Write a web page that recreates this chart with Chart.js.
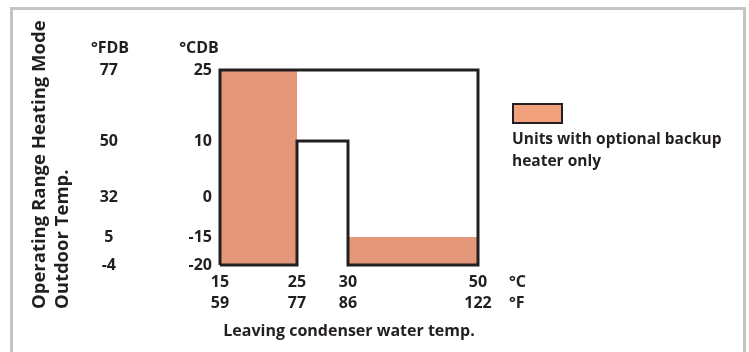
<!DOCTYPE html>
<html>
<head>
<meta charset="utf-8">
<script src="https://cdn.jsdelivr.net/npm/chart.js@4/dist/chart.umd.min.js"></script>
<style>
  html, body { margin: 0; padding: 0; background: #fff; }
  #wrap { width: 749px; height: 352px; position: relative; }
  canvas { display: block; }
</style>
</head>
<body>
<div id="wrap"><canvas id="c" width="749" height="352"></canvas></div>
<script>
// Outdoor temperature ticks (dry bulb)
const outdoorC = [25, 10, 0, -15, -20];
const outdoorF = [77, 50, 32, 5, -4];
// Leaving condenser water temperature ticks
const waterC = [15, 25, 30, 50];
const waterF = [59, 77, 86, 122];
// Operating envelope outline, as (water °C, outdoor °C) vertices
const rangeWater   = [15, 15, 50, 50, 30, 30, 25, 25, 15];
const rangeOutdoor = [-20, 25, 25, -20, -20, 10, 10, -20, -20];
// Zones needing the optional backup heater: water span, upper outdoor limit (down to -20 °C)
const backupWater   = [[15, 25], [30, 50]];
const backupOutdoor = [25, -15];

// The diagram is schematic: each tick sits at a fixed place along its axis
const outdoorAxis = [195, 124, 68, 28, 0];
const waterAxis   = [0, 77, 128, 258];

function place(v, vals, pos) {
  for (let i = 0; i < vals.length - 1; i++) {
    const a = vals[i], b = vals[i + 1];
    if ((v - a) * (v - b) <= 0) {
      return a === b ? pos[i] : pos[i] + (v - a) / (b - a) * (pos[i + 1] - pos[i]);
    }
  }
  return pos[vals.indexOf(v)];
}
const wx = v => place(v, waterC, waterAxis);
const oy = v => place(v, outdoorC, outdoorAxis);

const INK = '#231f20';
const FILL = '#e5977a';
const FAMILY = '"Open Sans", Roboto, sans-serif';
const tickFont = { family: FAMILY, size: 16, weight: 'bold', lineHeight: 21 / 16 };

const datasets = [{
  label: 'Operating range',
  data: rangeWater.map((w, i) => ({ x: wx(w), y: oy(rangeOutdoor[i]) })),
  showLine: true,
  fill: false,
  borderColor: INK,
  borderWidth: 3,
  borderJoinStyle: 'miter',
  pointRadius: 0,
  clip: false,
  order: 0
}];
backupWater.forEach((span, k) => {
  datasets.push({
    label: 'Units with optional backup heater only',
    data: span.map(w => ({ x: wx(w), y: oy(backupOutdoor[k]) })),
    showLine: true,
    fill: 'start',
    backgroundColor: FILL,
    borderWidth: 0,
    pointRadius: 0,
    order: 1
  });
});

const decor = {
  id: 'decor',
  beforeDraw(chart) {
    const ctx = chart.ctx;
    ctx.save();
    ctx.strokeStyle = '#c4c4c4';
    ctx.lineWidth = 3;
    ctx.strokeRect(11.5, 8.5, 733, 360);
    ctx.restore();
  },
  afterDraw(chart) {
    const ctx = chart.ctx;
    ctx.save();
    ctx.fillStyle = INK;
    ctx.textBaseline = 'middle';
    ctx.font = 'bold 16px ' + FAMILY;
    // column headers
    ctx.textAlign = 'center';
    ctx.fillText('°FDB', 110, 48);
    ctx.fillText('°CDB', 199, 48);
    // unit markers for the water temperature rows
    ctx.textAlign = 'left';
    ctx.fillText('°C', 509, 282);
    ctx.fillText('°F', 509, 303);
    // legend
    ctx.fillStyle = '#f2a07e';
    ctx.fillRect(513, 104, 49, 19);
    ctx.strokeStyle = INK;
    ctx.lineWidth = 2;
    ctx.strokeRect(513, 104, 49, 19);
    ctx.fillStyle = INK;
    ctx.font = 'bold 15.5px ' + FAMILY;
    ctx.fillText('Units with optional backup', 512, 140);
    ctx.fillText('heater only', 512, 162);
    // rotated outdoor-temperature title
    ctx.font = 'bold 18.5px ' + FAMILY;
    [['Operating Range Heating Mode', 40], ['Outdoor Temp.', 63]].forEach(([t, x]) => {
      ctx.save();
      ctx.translate(x, 309);
      ctx.rotate(-Math.PI / 2);
      ctx.fillText(t, 0, 0);
      ctx.restore();
    });
    ctx.restore();
  }
};

new Chart(document.getElementById('c'), {
  type: 'scatter',
  data: { datasets },
  plugins: [decor],
  options: {
    responsive: false,
    animation: false,
    events: [],
    layout: { padding: { left: 12, top: 70, right: 271, bottom: 11 } },
    plugins: { legend: { display: false }, tooltip: { enabled: false } },
    scales: {
      x: {
        type: 'linear', min: 0, max: 258, position: 'bottom',
        grid: { display: false, drawTicks: false }, border: { display: false },
        afterBuildTicks: s => { s.ticks = waterAxis.map(v => ({ value: v })); },
        afterFit: s => { s.height = 76; },
        ticks: {
          autoSkip: false, maxRotation: 0, minRotation: 0, padding: 6.5,
          color: INK, font: tickFont,
          callback: v => { const i = waterAxis.indexOf(v); return [String(waterC[i]), String(waterF[i])]; }
        },
        title: {
          display: true, text: 'Leaving condenser water temp.', color: INK,
          font: { family: FAMILY, size: 16, weight: 'bold' }, padding: { top: 0, bottom: 0 }
        }
      },
      y: {
        type: 'linear', min: 0, max: 195, position: 'left', weight: 0,
        grid: { display: false, drawTicks: false }, border: { display: false },
        afterBuildTicks: s => { s.ticks = outdoorAxis.map(v => ({ value: v })); },
        afterFit: s => { s.width = 100; },
        ticks: {
          autoSkip: false, padding: 8, color: INK, font: tickFont,
          callback: v => String(outdoorC[outdoorAxis.indexOf(v)])
        }
      },
      yF: {
        type: 'linear', min: 0, max: 195, position: 'left', weight: 1,
        grid: { display: false, drawTicks: false }, border: { display: false },
        afterBuildTicks: s => { s.ticks = outdoorAxis.map(v => ({ value: v })); },
        afterFit: s => { s.width = 108; },
        ticks: {
          autoSkip: false, padding: 2, crossAlign: 'center', color: INK, font: tickFont,
          callback: v => String(outdoorF[outdoorAxis.indexOf(v)])
        }
      }
    }
  }
});
</script>
</body>
</html>
